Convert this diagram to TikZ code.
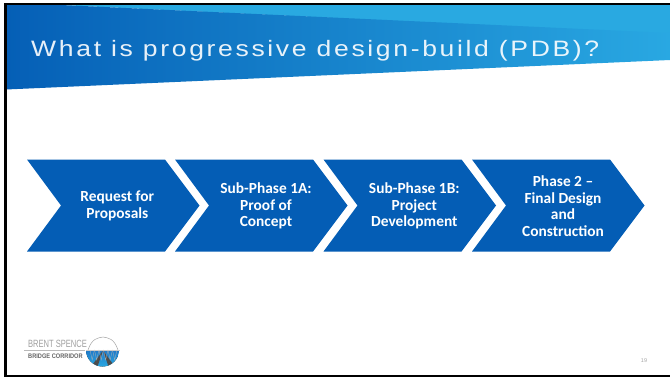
\documentclass[tikz,border=0pt]{standalone}
\usepackage{fontspec}
\setmainfont{Carlito}
\newfontfamily\titlefont{Liberation Sans}
\usetikzlibrary{calc}
\definecolor{chev}{HTML}{045DB5}
\definecolor{lightb}{HTML}{29A9E1}
\definecolor{bandl}{HTML}{055FB6}
\definecolor{bandm}{HTML}{1177C6}
\definecolor{bandr}{HTML}{29A8E2}
\definecolor{logoblue}{HTML}{1F78C8}
\tikzset{
  chevtext/.style={text=white,font=\fontsize{15.4}{16.6}\selectfont\bfseries,align=center,inner sep=0pt},
}
\newcommand{\chevron}[1]{\fill[chev] (#1,-159.5) -- ++(138,0) -- ++(34.5,-46) -- ++(-34.5,-46) -- ++(-138,0) -- ++(34,46) -- cycle;}
\begin{document}
\begin{tikzpicture}[x=1pt,y=1pt]
\useasboundingbox (0,0) rectangle (670,-378);
\fill[white] (0,0) rectangle (670,-378);
% header
\fill[lightb] (6,-4.5) -- (670,-4.5) -- (670,-34) -- (50,-4.5) -- cycle;
\shade[left color=bandl,middle color=bandm,right color=bandr] (6,-4.5) -- (50,-4.5) -- (670,-33) -- (670,-60) -- (6,-89.5) -- cycle;
\node[text=white,font=\titlefont\fontsize{22.3}{26}\selectfont,anchor=base west,inner sep=0pt,opacity=.9,xscale=1.19] (title) at (31,-56) {\addfontfeature{LetterSpace=10}What is progressive design-build (PDB)?};
% chevrons
\chevron{27}
\chevron{175}
\chevron{323.5}
\chevron{472}
\node[chevtext] (c1) at (117.3,-206) {Request for\\Proposals};
\node[chevtext] (c2) at (266,-206) {Sub-Phase 1A:\\Proof of\\Concept};
\node[chevtext] (c3) at (414.3,-206) {Sub-Phase 1B:\\Project\\Development};
\node[chevtext] (c4) at (563,-206) {Phase 2 --\\Final Design\\and\\Construction};
% logo
\node[text=gray!75,font=\titlefont\fontsize{10.5}{11}\selectfont,anchor=base west,inner sep=0pt,xscale=.72] (l1) at (28,-347) {BRENT SPENCE};
\node[text=black!60,font=\titlefont\bfseries\fontsize{6.6}{7}\selectfont,anchor=base west,inner sep=0pt,xscale=.86] (l2) at (28,-358) {BRIDGE CORRIDOR};
\fill[gray!55] (24,-349.5) rectangle (85,-351);
\begin{scope}
\clip (86,-350) arc[start angle=180,end angle=360,radius=16.5] -- cycle;
\fill[bottom color=lightb,top color=logoblue] (86,-350) rectangle (119,-367);
\fill[black!70] (103,-350.5) -- (93,-364) -- (97,-368) -- cycle;
\fill[black!70] (103,-350.5) -- (113,-364) -- (109,-368) -- cycle;
\end{scope}
\draw[gray!70,line width=.5pt] (88,-350) .. controls (92,-338) and (98,-338) .. (103,-337) .. controls (108,-338) and (114,-338) .. (118,-350);
\foreach \p in {90,94.5,99,103.5,108,112.5}{\draw[gray!60,line width=.3pt] (\p,-350) -- ++(2.2,-10) -- ++(2.2,10);}
\fill[gray!40] (86,-349.5) rectangle (120,-350.5);
% page number
\node[text=gray!70,font=\titlefont\fontsize{5.5}{6}\selectfont,inner sep=0pt] (pg) at (644,-361) {19};
% frame
\fill[black] (4,-2.5) rectangle (670,-4.7);
\fill[black] (4,-375) rectangle (670,-377);
\fill[black] (4,-2.5) rectangle (6.5,-377);
\end{tikzpicture}
\end{document}
